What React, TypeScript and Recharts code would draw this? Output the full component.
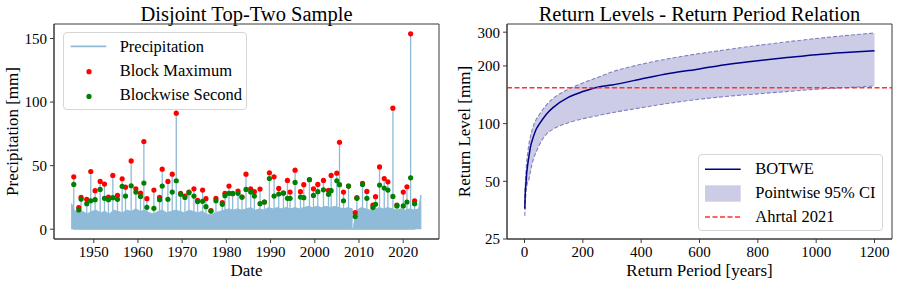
import React from 'react';
import {
  ComposedChart, Area, Line, Scatter, XAxis, YAxis, Legend, ReferenceArea, ReferenceLine,
} from 'recharts';

// ---------- left panel: daily precipitation + block extremes ----------
const blockDates = [
  1945.47, 1946.6, 1947.13, 1948.41, 1949.32, 1950.3, 1951.44, 1952.42, 1953.32, 1954.31,
  1955.36, 1956.42, 1957.18, 1958.46, 1959.52, 1960.57, 1961.33, 1962.01, 1963.6, 1964.88,
  1965.48, 1966.77, 1967.75, 1968.66, 1969.64, 1970.62, 1971.53, 1972.66, 1973.49, 1974.62,
  1975.38, 1976.51, 1977.64, 1979.08, 1979.68, 1980.59, 1981.42, 1982.63, 1983.53, 1984.44,
  1985.5, 1986.33, 1987.61, 1988.6, 1989.73, 1990.79, 1991.84, 1992.9, 1993.81, 1994.41,
  1995.54, 1996.75, 1997.51, 1998.79, 1999.7, 2000.68, 2001.96, 2003.1, 2003.7, 2004.98,
  2005.59, 2006.5, 2007.63, 2009.14, 2009.52, 2010.8, 2011.78, 2013.14, 2013.75, 2014.65,
  2015.71, 2016.54, 2017.67, 2018.58, 2020.02, 2020.85, 2021.68, 2022.58,
];
const blockMax = [
  41.2, 17.0, 25.0, 23.5, 45.4, 30.3, 37.6, 35.5, 25.3, 42.3,
  26.6, 39.7, 33.1, 53.7, 31.8, 28.4, 68.9, 24.0, 30.8, 25.0,
  47.2, 37.6, 43.3, 91.3, 28.2, 26.1, 29.2, 31.8, 22.7, 30.8,
  24.0, 14.6, 24.3, 20.9, 28.2, 33.9, 27.9, 30.0, 25.3, 43.3,
  31.8, 29.5, 31.6, 21.4, 44.4, 41.2, 32.1, 28.4, 38.4, 29.2,
  46.4, 29.5, 35.0, 39.1, 31.8, 35.2, 38.4, 30.5, 42.3, 44.1,
  68.4, 29.2, 33.9, 13.0, 24.8, 36.0, 29.7, 19.0, 25.6, 49.0,
  39.9, 37.3, 95.2, 19.0, 29.2, 33.4, 153.7, 22.4,
];
const blockSecond = [
  35.2, 15.1, 23.7, 20.1, 22.4, 23.2, 31.3, 24.3, 23.2, 24.8,
  23.5, 33.7, 26.1, 34.2, 29.2, 25.8, 36.3, 17.2, 16.4, 23.2,
  33.9, 23.5, 29.2, 38.1, 27.4, 25.0, 28.7, 26.1, 21.7, 21.9,
  17.7, 14.3, 22.4, 19.6, 26.4, 28.2, 28.2, 28.2, 25.3, 31.3,
  29.2, 26.1, 20.1, 21.4, 39.9, 26.1, 27.7, 28.4, 24.3, 24.3,
  36.8, 25.3, 24.8, 38.9, 26.6, 29.5, 31.0, 27.4, 30.3, 38.1,
  35.0, 22.4, 33.9, 9.9, 24.3, 35.2, 24.3, 17.0, 19.6, 34.7,
  32.4, 30.8, 25.8, 18.3, 18.3, 21.4, 40.4, 20.1,
];
// typical upper level of the dense daily record, one value per year (1945..2023)
const recordYears = Array.from({ length: 79 }, (_, i) => 1945 + i);
const recordLevel = [
  15, 13, 14, 12, 14, 15, 13, 14, 12, 15, 14, 13, 15, 14, 16, 14, 15, 13, 12, 14,
  15, 13, 14, 15, 14, 13, 15, 14, 13, 14, 12, 11, 13, 14, 15, 16, 15, 16, 15, 16,
  17, 15, 16, 15, 17, 16, 17, 16, 17, 16, 17, 16, 17, 18, 17, 18, 17, 18, 17, 18,
  17, 16, 17, 16, 15, 17, 16, 15, 15, 17, 16, 17, 16, 15, 16, 15, 16, 15, 16,
];
const recordStart = 1945.0;
const recordStartLevel = 20;
const recordEnd = 2024.0;
const recordEndLevel = 27;
const gapStart = 2008.4;
const gapEnd = 2008.6;

// ---------- right panel: return levels ----------
const periods = [1, 2, 3, 5, 7, 10, 15, 20, 30, 40, 50, 75, 100, 150, 200, 250, 300, 400, 500, 600, 700, 800, 900, 1000, 1100, 1200];
const botwe = [36, 41, 45, 48.5, 54, 59.5, 67, 75, 85, 93.5, 99, 112, 122, 137, 147, 155, 159, 171, 183, 193, 204, 213, 221, 229, 235, 240];
const ciLow = [33, 36, 39, 43, 46, 49, 51, 56, 65, 71, 77, 88, 94, 101, 106, 110, 114, 121, 128, 134, 139, 143, 147, 151, 154, 157];
const ciHigh = [38, 44, 49, 56, 62, 68, 78, 85, 97, 105, 111, 125, 136, 151, 163, 174, 186, 204, 219, 232, 244, 256, 267, 278, 288, 297];
const ahrtal2021 = 154;

const FONT = '"Liberation Serif", "DejaVu Serif", serif';
const BLUE = '#8fbbd9';
const AXIS = '#3a3a3a';

const maxPoints = blockDates.map((t, i) => ({ t, v: blockMax[i] }));
const secondPoints = blockDates.map((t, i) => ({ t, v: blockSecond[i] }));

const recordData: { t: number; v: number }[] = [{ t: recordStart, v: 0 }, { t: recordStart, v: recordStartLevel }];
recordYears.forEach((y, i) => {
  if (y === 2009) {
    recordData.push({ t: gapStart, v: 0 }, { t: gapEnd, v: 0 });
  }
  recordData.push({ t: y + 0.5, v: recordLevel[i] });
});
recordData.push({ t: recordEnd, v: recordEndLevel }, { t: recordEnd, v: 0 });

const spikeData: { t: number; v: number }[] = [];
blockDates.forEach((t, i) => {
  spikeData.push({ t, v: 0 }, { t, v: blockMax[i] }, { t, v: 0 });
});

const returnData = periods.map((T, i) => ({ T, rl: botwe[i], lo: ciLow[i], hi: ciHigh[i] }));

const tickStyle = { fill: '#000', fontSize: 15, fontFamily: FONT };

const legendBox: React.CSSProperties = {
  position: 'relative', width: '100%', height: '100%', boxSizing: 'border-box',
  border: '1px solid #d6d6d6', borderRadius: 4, background: 'rgba(255,255,255,0.85)',
  fontFamily: FONT, fontSize: 16.5, color: '#000',
};
const legendText = (top: number): React.CSSProperties => ({
  position: 'absolute', left: 56, top, lineHeight: '16.5px', whiteSpace: 'nowrap',
});

const LeftLegend = () => (
  <div style={legendBox}>
    <svg width={50} height={76} style={{ position: 'absolute', left: 0, top: 0 }}>
      <line x1={6.6} x2={42.3} y1={13.4} y2={13.4} stroke={BLUE} strokeWidth={1.6} />
      <circle cx={25} cy={38.7} r={2.6} fill="#ff0000" />
      <circle cx={25} cy={63.4} r={2.6} fill="#008000" />
    </svg>
    <span style={legendText(5.6)}>Precipitation</span>
    <span style={legendText(29.9)}>Block Maximum</span>
    <span style={legendText(53.9)}>Blockwise Second</span>
  </div>
);

const RightLegend = () => (
  <div style={legendBox}>
    <svg width={50} height={76} style={{ position: 'absolute', left: 0, top: 0 }}>
      <line x1={6} x2={41.7} y1={14.3} y2={14.3} stroke="#00008b" strokeWidth={1.5} />
      <rect x={6} y={30.3} width={35.7} height={16.4} fill="#000080" fillOpacity={0.2} />
      <line x1={6} x2={41.7} y1={62} y2={62} stroke="#ff3030" strokeWidth={1.5} strokeDasharray="5 2.5" />
    </svg>
    <span style={legendText(5.5)}>BOTWE</span>
    <span style={legendText(29.9)}>Pointwise 95% CI</span>
    <span style={legendText(53.9)}>Ahrtal 2021</span>
  </div>
);

const abs = (left: number, top: number, extra: React.CSSProperties = {}): React.CSSProperties => ({
  position: 'absolute', left, top, fontFamily: FONT, color: '#000', whiteSpace: 'nowrap', ...extra,
});

export default function App() {
  return (
    <div style={{ position: 'absolute', left: 0, top: 0, width: 897, height: 286, background: '#fff', overflow: 'hidden' }}>
      {/* titles and axis labels */}
      <div style={abs(54, 3.5, { width: 385, textAlign: 'center', fontSize: 20.5, lineHeight: '20.5px' })}>Disjoint Top-Two Sample</div>
      <div style={abs(507, 3.5, { width: 385, textAlign: 'center', fontSize: 20.5, lineHeight: '20.5px' })}>Return Levels - Return Period Relation</div>
      <div style={abs(54, 261.8, { width: 385, textAlign: 'center', fontSize: 17, lineHeight: '17px' })}>Date</div>
      <div style={abs(507, 261.8, { width: 385, textAlign: 'center', fontSize: 17, lineHeight: '17px' })}>Return Period [years]</div>
      <div style={abs(12.1 - 107.5, 131.5 - 8.5, { width: 215, textAlign: 'center', fontSize: 17, lineHeight: '17px', transform: 'rotate(-90deg)' })}>Precipitation [mm]</div>
      <div style={abs(464.3 - 107.5, 131.5 - 8.5, { width: 215, textAlign: 'center', fontSize: 17, lineHeight: '17px', transform: 'rotate(-90deg)' })}>Return Level [mm]</div>

      {/* left chart */}
      <div style={{ position: 'absolute', left: 0, top: 0 }}>
        <ComposedChart width={448} height={286} margin={{ top: 24, right: 9, bottom: 0, left: 0 }}>
          <XAxis
            dataKey="t" type="number" domain={[1941, 2028.1]} allowDataOverflow
            ticks={[1950, 1960, 1970, 1980, 1990, 2000, 2010, 2020]}
            height={47} tickSize={4} tickMargin={3} stroke={AXIS} tick={tickStyle}
          />
          <YAxis
            type="number" domain={[-7.7, 161.4]} allowDataOverflow ticks={[0, 50, 100, 150]}
            width={54} tickSize={4} tickMargin={3} stroke={AXIS} tick={tickStyle}
          />
          <ReferenceArea x1={1941} x2={2028.1} y1={-7.7} y2={161.4} fill="none" stroke={AXIS} strokeWidth={1} />
          <Area data={recordData} dataKey="v" type="linear" stroke={BLUE} strokeWidth={1} fill={BLUE} fillOpacity={1} isAnimationActive={false} dot={false} activeDot={false} />
          <Line data={spikeData} dataKey="v" type="linear" stroke={BLUE} strokeWidth={1.3} dot={false} activeDot={false} isAnimationActive={false} />
          <Scatter data={maxPoints} dataKey="v" isAnimationActive={false}
            shape={(p: any) => <circle cx={p.cx} cy={p.cy} r={2.6} fill="#ff0000" />} />
          <Scatter data={secondPoints} dataKey="v" isAnimationActive={false}
            shape={(p: any) => <circle cx={p.cx} cy={p.cy} r={2.6} fill="#008000" />} />
          <Legend layout="vertical" align="center" verticalAlign="middle"
            wrapperStyle={{ left: 62.7, top: 32.3, width: 184.6, height: 77.7 }} content={() => <LeftLegend />} />
        </ComposedChart>
      </div>

      {/* right chart */}
      <div style={{ position: 'absolute', left: 449, top: 0 }}>
        <ComposedChart width={448} height={286} data={returnData} margin={{ top: 24, right: 5, bottom: 0, left: 0 }}>
          <XAxis
            dataKey="T" type="number" domain={[-60, 1260]} allowDataOverflow
            ticks={[0, 200, 400, 600, 800, 1000, 1200]}
            height={47} tickSize={4} tickMargin={3} stroke={AXIS} tick={tickStyle}
          />
          <YAxis
            type="number" scale="log" domain={[25, 331]} allowDataOverflow ticks={[25, 50, 100, 200, 300]}
            width={58} tickSize={4} tickMargin={3} stroke={AXIS} tick={tickStyle}
          />
          <ReferenceArea x1={-60} x2={1260} y1={25} y2={331} fill="none" stroke={AXIS} strokeWidth={1} />
          <Area dataKey={(d: any) => [d.lo, d.hi]} type="monotone" stroke="none" fill="#000080" fillOpacity={0.2} isAnimationActive={false} dot={false} activeDot={false} />
          <Line dataKey="lo" type="monotone" stroke="#7f7fc2" strokeWidth={1.1} strokeDasharray="4 2" dot={false} activeDot={false} isAnimationActive={false} />
          <Line dataKey="hi" type="monotone" stroke="#7f7fc2" strokeWidth={1.1} strokeDasharray="4 2" dot={false} activeDot={false} isAnimationActive={false} />
          <Line dataKey="rl" type="monotone" stroke="#00008b" strokeWidth={1.5} dot={false} activeDot={false} isAnimationActive={false} />
          <ReferenceLine y={ahrtal2021} stroke="#ff3030" strokeWidth={1.5} strokeDasharray="5 2.5" />
          <Legend layout="vertical" align="center" verticalAlign="middle"
            wrapperStyle={{ left: 249.3, top: 154, width: 184.4, height: 76.7 }} content={() => <RightLegend />} />
        </ComposedChart>
      </div>
    </div>
  );
}
